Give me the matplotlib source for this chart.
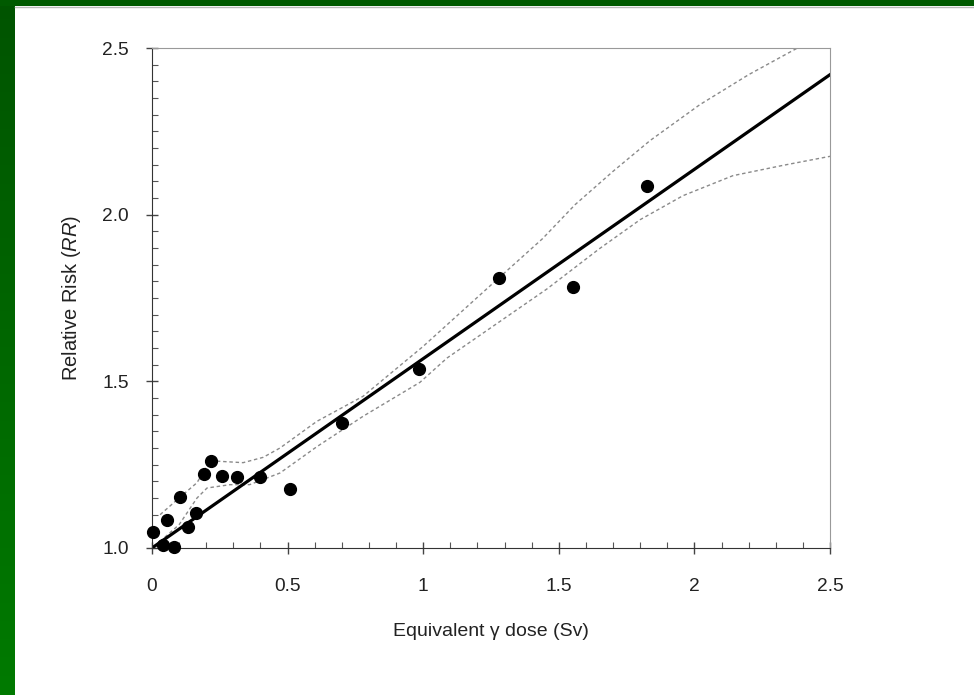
import numpy as np
import matplotlib
matplotlib.use('Agg')
from matplotlib import pyplot as plt
from matplotlib.ticker import MultipleLocator, FixedLocator

plt.rcParams['font.family'] = ['Liberation Sans', 'DejaVu Sans']
plt.rcParams['mathtext.fontset'] = 'custom'
plt.rcParams['mathtext.rm'] = 'Liberation Sans'
plt.rcParams['mathtext.it'] = 'Liberation Sans:italic'

# observed relative risk by dose category
dose = [0.004, 0.04, 0.055, 0.08, 0.103, 0.133, 0.162, 0.19, 0.217, 0.258,
        0.313, 0.40, 0.508, 0.70, 0.983, 1.278, 1.554, 1.827]
rr = [1.048, 1.009, 1.084, 1.003, 1.154, 1.063, 1.105, 1.223, 1.262, 1.217,
      1.214, 1.214, 1.178, 1.376, 1.536, 1.81, 1.783, 2.087]

# linear fit
fit_x = [0.0, 2.5]
fit_y = [1.0, 2.42]

# smoothed confidence band
upper_x = [0.03, 0.10, 0.166, 0.214, 0.25, 0.336, 0.41, 0.472, 0.608, 0.778,
           1.0, 1.246, 1.44, 1.56, 1.70, 1.836, 2.02, 2.2, 2.38]
upper_y = [1.10, 1.15, 1.196, 1.262, 1.26, 1.256, 1.272, 1.30, 1.38, 1.455,
           1.605, 1.786, 1.928, 2.03, 2.13, 2.222, 2.33, 2.42, 2.50]
lower_x = [0.03, 0.10, 0.166, 0.203, 0.288, 0.36, 0.472, 0.608, 0.778, 0.988,
           1.088, 1.456, 1.65, 1.80, 1.958, 2.142, 2.327, 2.5]
lower_y = [1.02, 1.07, 1.15, 1.18, 1.19, 1.19, 1.225, 1.304, 1.395, 1.497,
           1.57, 1.777, 1.898, 1.985, 2.057, 2.117, 2.148, 2.175]

fig = plt.figure(figsize=(9.74, 6.95), dpi=100)
fig.patch.set_facecolor('white')

# green slide border (left strip with gradient, thin top band)
bg = fig.add_axes([0, 0, 15 / 974, 1])
grad = np.linspace(0, 1, 256).reshape(-1, 1)
bg.imshow(grad, aspect='auto', cmap=matplotlib.colors.LinearSegmentedColormap.from_list(
    'g', ['#005400', '#007a00']), origin='upper')
bg.axis('off')
top = fig.add_axes([0, 1 - 6 / 695, 1, 6 / 695])
top.set_facecolor('#005a00')
top.set_xticks([])
top.set_yticks([])
for s in top.spines.values():
    s.set_visible(False)
fig.add_artist(plt.Line2D([15 / 974, 1], [1 - 7 / 695, 1 - 7 / 695],
                          transform=fig.transFigure, color='#bbbbbb', lw=1))

ax = fig.add_axes([152 / 974, 1 - 548 / 695, 678 / 974, 500 / 695])
ax.plot(upper_x, upper_y, color='#8a8a8a', lw=1, ls=(0, (2.5, 2)))
ax.plot(lower_x, lower_y, color='#8a8a8a', lw=1, ls=(0, (2.5, 2)))
ax.plot(fit_x, fit_y, color='black', lw=2.3)
ax.plot(dose, rr, 'o', color='black', markersize=8.5, clip_on=False, zorder=5)

ax.set_xlim(0, 2.5)
ax.set_ylim(1.0, 2.5)
ax.xaxis.set_major_locator(FixedLocator([0, 0.5, 1, 1.5, 2, 2.5]))
ax.set_xticklabels(['0', '0.5', '1', '1.5', '2', '2.5'])
ax.xaxis.set_minor_locator(MultipleLocator(0.1))
ax.yaxis.set_major_locator(FixedLocator([1.0, 1.5, 2.0, 2.5]))
ax.set_yticklabels(['1.0', '1.5', '2.0', '2.5'])
ax.yaxis.set_minor_locator(MultipleLocator(0.05))

ax.tick_params(which='major', direction='inout', length=9, width=1, color='#444444',
               labelsize=13.8, labelcolor='#222222')
ax.tick_params(axis='x', which='major', pad=17)
ax.tick_params(axis='y', which='major', pad=12)
ax.tick_params(which='minor', direction='in', length=4, width=0.8, color='#555555')

ax.spines['left'].set_color('#333333')
ax.spines['bottom'].set_color('#333333')
ax.spines['top'].set_color('#999999')
ax.spines['right'].set_color('#999999')

ax.set_xlabel('Equivalent γ dose (Sv)', fontsize=14, color='#222222', labelpad=20)
ax.set_ylabel('Relative Risk ($\\mathit{RR}$)', fontsize=14.5, color='#222222', labelpad=14)

fig.savefig('out.png', dpi=100)
